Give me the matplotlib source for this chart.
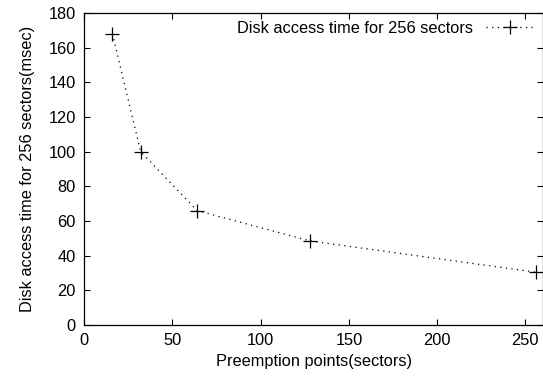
import matplotlib
matplotlib.use('Agg')
import matplotlib.pyplot as plt

points = [16, 32, 64, 128, 256]
access_time = [168, 100, 66, 48.5, 30.5]

plt.rcParams['font.family'] = 'Liberation Sans'
plt.rcParams['font.size'] = 11.8

fig = plt.figure(figsize=(5.43, 3.78), dpi=100)
ax = fig.add_axes([0.155, 0.140, 0.845, 0.826])

ax.plot(points, access_time, color='black', linestyle=(0, (1, 3.5)), lw=0.9,
        marker='+', markersize=10, markeredgewidth=0.9,
        label='Disk access time for 256 sectors')

ax.set_xlim(0, 260)
ax.set_ylim(0, 180)
ax.set_xticks([0, 50, 100, 150, 200, 250])
ax.set_yticks(range(0, 181, 20))
ax.tick_params(direction='in', top=True, right=True, length=4, width=0.8, pad=6)
for s in ax.spines.values():
    s.set_linewidth(0.9)

ax.set_xlabel('Preemption points(sectors)', labelpad=4)
ax.set_ylabel('Disk access time for 256 sectors(msec)', labelpad=10)

leg = ax.legend(loc='upper right', frameon=False, markerfirst=False,
                handlelength=3.0, borderaxespad=0.3, handletextpad=0.8,
                borderpad=0.2)

fig.savefig('out.png', dpi=100)
